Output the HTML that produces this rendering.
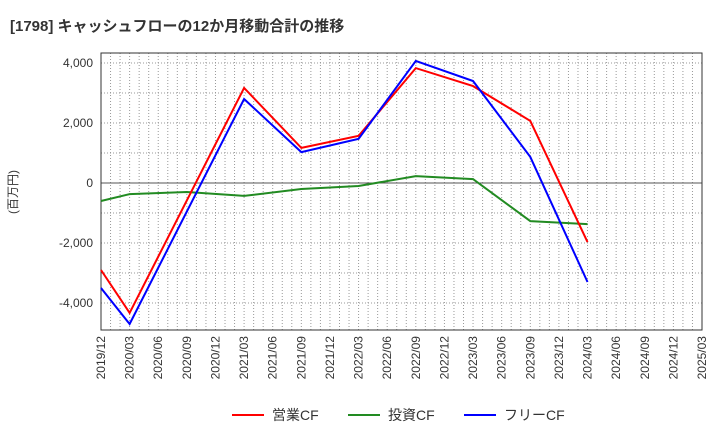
<!DOCTYPE html>
<html><head><meta charset="utf-8"><style>
body{margin:0;background:#fff;font-family:"Liberation Sans","Noto Sans CJK JP",sans-serif}
</style></head><body>
<svg id="chart" width="720" height="440" xmlns="http://www.w3.org/2000/svg" font-family="Liberation Sans, Noto Sans CJK JP, sans-serif">
<text x="10" y="31" font-size="15" font-weight="bold" fill="#333">[1798]  キャッシュフローの12か月移動合計の推移</text>
<text transform="translate(17,192) rotate(-90)" font-size="12" fill="#333" text-anchor="middle">(百万円)</text>
<g id="grid"></g><g id="axes"></g><g id="series"></g><g id="legend"></g>
</svg>
<script>
const xLabels=["2019/12","2020/03","2020/06","2020/09","2020/12","2021/03","2021/06","2021/09","2021/12","2022/03","2022/06","2022/09","2022/12","2023/03","2023/06","2023/09","2023/12","2024/03","2024/06","2024/09","2024/12","2025/03"];
const yTicks=[-4000,-2000,0,2000,4000];
const opIdx=[0,1,5,7,9,11,13,15,17];
const opCF=[-2900,-4330,3170,1170,1570,3830,3230,2070,-1970];
const invIdx=[0,1,3,5,7,9,11,13,15,17];
const invCF=[-600,-370,-300,-430,-200,-100,230,130,-1270,-1370];
const freeIdx=[0,1,5,7,9,11,13,15,17];
const freeCF=[-3500,-4700,2800,1030,1470,4070,3400,870,-3300];
const L=101,R=702,T=53,B=330;
const nQ=xLabels.length-1;
const xs=i=>L+(R-L)*i/nQ;
const ys=v=>183-v*0.03;
const NS="http://www.w3.org/2000/svg";
function mk(tag,attrs,parent,txt){const e=document.createElementNS(NS,tag);for(const k in attrs)e.setAttribute(k,attrs[k]);if(txt!==undefined)e.textContent=txt;document.getElementById(parent).appendChild(e);return e;}
for(let m=1;m<nQ*3;m++){const x=L+(R-L)*m/(nQ*3);
const g=mk("line",{x1:x,x2:x,y1:T,y2:B,stroke:"#999","stroke-width":1,"stroke-dasharray":"1,2"},"grid");

}
for(let v=-4000;v<=4000;v+=1000){const y=ys(v);
const g=mk("line",{x1:L,x2:R,y1:y,y2:y,stroke:v===0?"#555":"#999","stroke-width":1,"stroke-dasharray":v===0?"none":"1,2"},"grid");

}
const fr=mk("rect",{x:L,y:T,width:R-L,height:B-T,fill:"none",stroke:"#333","stroke-width":1},"axes");


yTicks.forEach(v=>{const t=mk("text",{x:L-8,y:ys(v)+4,"font-size":12,fill:"#333","text-anchor":"end"},"axes",v.toLocaleString("en-US"));

});
xLabels.forEach((s,i)=>{const x=xs(i);const t=mk("text",{transform:`translate(${x+4},${B+6}) rotate(-90)`,"font-size":12,fill:"#333","text-anchor":"end"},"axes",s);

});
function line(idx,vals,color,name){const pts=idx.map((q,k)=>xs(q)+","+ys(vals[k])).join(" ");
const p=mk("polyline",{points:pts,fill:"none",stroke:color,"stroke-width":2},"series");

}
line(invIdx,invCF,"#228b22","investing-cf-line");
line(opIdx,opCF,"#ff0000","operating-cf-line");
line(freeIdx,freeCF,"#0000ff","free-cf-line");
[["営業CF","#ff0000",232],["投資CF","#228b22",348],["フリーCF","#0000ff",464]].forEach(([n,c,x])=>{
const l=mk("line",{x1:x,x2:x+32,y1:415,y2:415,stroke:c,"stroke-width":2},"legend");


const t=mk("text",{x:x+40,y:420,"font-size":14,fill:"#333"},"legend",n);

});
</script>
</body></html>
